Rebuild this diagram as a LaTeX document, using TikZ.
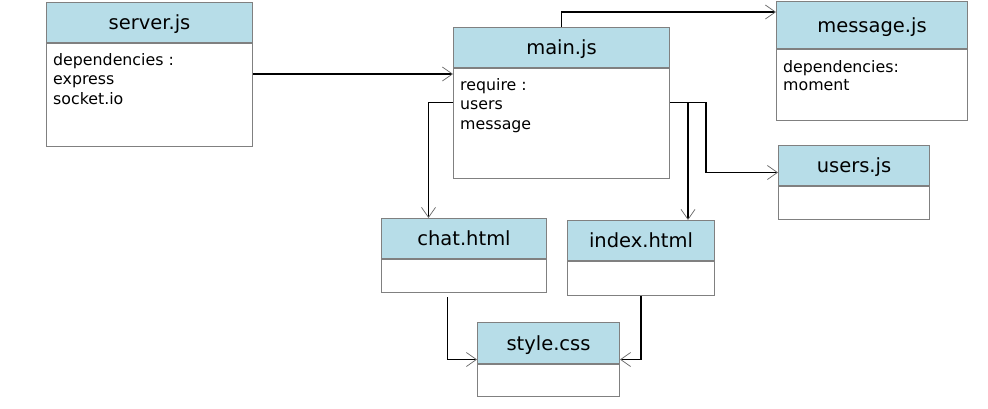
\documentclass[tikz,border=0pt]{standalone}
\usepackage{fontspec}
\setmainfont{DejaVu Sans}
\usetikzlibrary{arrows.meta,calc}
\definecolor{hdrblue}{HTML}{B7DDE8}
\definecolor{bordergray}{HTML}{808080}
\tikzset{
  x=1pt,y=-1pt,
  hdr/.style={draw=bordergray,fill=hdrblue,line width=1pt,inner sep=0pt,anchor=north west,
    text depth=0pt,font={\fontsize{19.5}{22}\selectfont}},
  bdy/.style={draw=bordergray,fill=white,line width=1pt,inner sep=0pt,anchor=north west},
  btxt/.style={anchor=north west,inner sep=0pt,align=left,font={\fontsize{15.8}{19.5}\selectfont}},
  conn/.style={draw=black,line width=1.3pt,-{Straight Barb[length=10pt,width=14pt,line width=0.7pt,color=bordergray!80!black]}},
}
\begin{document}
\begin{tikzpicture}
\useasboundingbox[fill=white] (0,0) rectangle (988,408);
% server.js
\node[hdr,minimum width=206pt,minimum height=40pt] (server) at (46,2) {server.js};
\node[bdy,minimum width=206pt,minimum height=103pt] (serverb) at (server.south west) {};
\node[btxt] (servert) at (53,53) {dependencies :\\express\\socket.io};
% main.js
\node[hdr,minimum width=216pt,minimum height=40pt] (main) at (453,27) {main.js};
\node[bdy,minimum width=216pt,minimum height=110pt] (mainb) at (main.south west) {};
\node[btxt] (maint) at (460,78) {require :\\users\\message};
% message.js
\node[hdr,minimum width=191pt,minimum height=47pt] (message) at (776,1) {message.js};
\node[bdy,minimum width=191pt,minimum height=71pt] (messageb) at (message.south west) {};
\node[btxt,font={\fontsize{15.8}{18.5}\selectfont}] (messaget) at (783,60) {dependencies:\\moment};
% users.js
\node[hdr,minimum width=151pt,minimum height=40pt] (users) at (778,145) {users.js};
\node[bdy,minimum width=151pt,minimum height=33pt] (usersb) at (users.south west) {};
% chat.html
\node[hdr,minimum width=165pt,minimum height=40pt] (chat) at (381,218) {chat.html};
\node[bdy,minimum width=165pt,minimum height=33pt] (chatb) at (chat.south west) {};
% index.html
\node[hdr,minimum width=147pt,minimum height=40pt] (index) at (567,220) {index.html};
\node[bdy,minimum width=147pt,minimum height=34pt] (indexb) at (index.south west) {};
% style.css
\node[hdr,minimum width=142pt,minimum height=41pt] (style) at (477,322) {style.css};
\node[bdy,minimum width=142pt,minimum height=32pt] (styleb) at (style.south west) {};
% connectors
\coordinate (sm) at ([yshift=-6pt]mainb.north west);
\draw[conn] (serverb.east |- sm) -- (sm);
\draw[conn] (main.north) |- ([yshift=-11pt]message.north west);
\coordinate (mr) at ([yshift=21pt]mainb.east);
\coordinate (ml) at ([yshift=21pt]mainb.west);
\draw[conn] (mr) -- ++(36,0) |- ([yshift=-7pt]users.west);
\draw[conn] (mr) -| ([xshift=47pt]index.north);
\draw[conn] (ml) -| ([xshift=-35.5pt]chat.north);
\draw[conn] ([xshift=-16.5pt,yshift=-4pt]chatb.south) |- ([yshift=-16.5pt]style.west);
\draw[conn] (indexb.south) |- ([yshift=-16.5pt]style.east);
\end{tikzpicture}
\end{document}
